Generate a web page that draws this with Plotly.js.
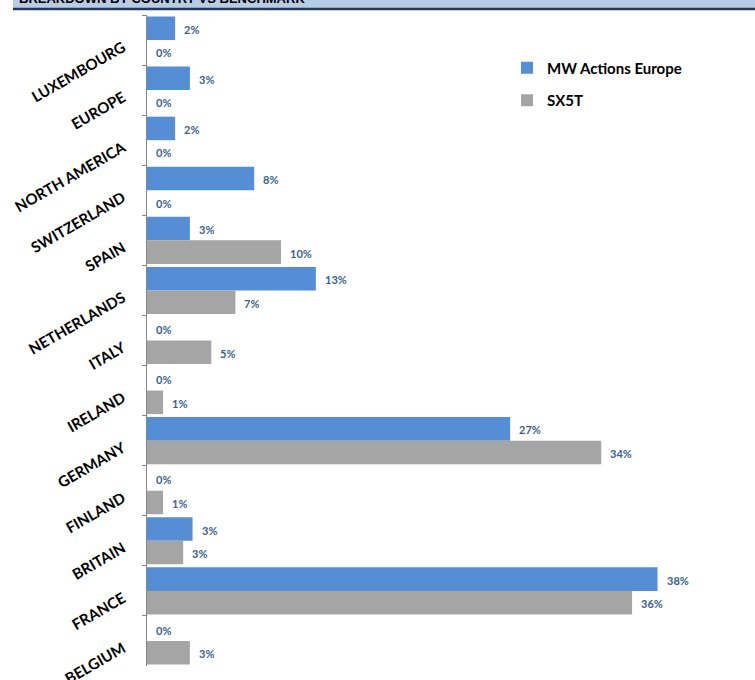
<!DOCTYPE html>
<html>
<head>
<meta charset="utf-8">
<script src="https://cdn.plot.ly/plotly-3.0.1.min.js"></script>
<style>html,body{margin:0;padding:0;background:#fff;}#chart{width:755px;height:680px;}</style>
</head>
<body>
<div id="chart"></div>
<script>
const categories = ["LUXEMBOURG","EUROPE","NORTH AMERICA","SWITZERLAND","SPAIN","NETHERLANDS","ITALY","IRELAND","GERMANY","FINLAND","BRITAIN","FRANCE","BELGIUM"];
const seriesNames = ["MW Actions Europe","SX5T"];
const fundValues = [2.1, 3.2, 2.1, 8.0, 3.2, 12.6, 0, 0, 27.1, 0, 3.4, 38.1, 0];
const benchValues = [0, 0, 0, 0, 10.0, 6.6, 4.8, 1.2, 33.9, 1.2, 2.7, 36.2, 3.2];
const titleText = "BREAKDOWN BY COUNTRY VS BENCHMARK";

const BLUE = "#558ED5", GREY = "#A5A5A5", LABEL = "#3A5F8F";
const fontFam = "Lato, 'Open Sans', sans-serif";

const traces = [
  {type:"bar", orientation:"h", name:seriesNames[0], y:categories, x:fundValues,
   marker:{color:BLUE}, legendgroup:"a", hoverinfo:"x+y"},
  {type:"bar", orientation:"h", name:seriesNames[1], y:categories, x:benchValues,
   marker:{color:GREY}, legendgroup:"b", hoverinfo:"x+y"}
];

const annotations = [];
[[fundValues, 10.8],[benchValues, -12.8]].forEach(([vals, ys]) => {
  vals.forEach((v, i) => {
    annotations.push({x:v, y:categories[i], xref:"x", yref:"y", text:Math.round(v)+"%",
      showarrow:false, xanchor:"left", yanchor:"middle", xshift:7, yshift:ys,
      font:{family:fontFam, size:11, color:LABEL, weight:"bold"}});
  });
});
annotations.push({x:0, y:1, xref:"paper", yref:"paper", xanchor:"left", yanchor:"bottom",
  xshift:-130, yshift:7, showarrow:false, text:titleText,
  font:{family:"'Liberation Sans', Arial, sans-serif", size:13, color:"#000", weight:"bold"}});

const layout = {
  width:755, height:680,
  margin:{l:147, r:5, t:14.5, b:14},
  paper_bgcolor:"#fff", plot_bgcolor:"#fff",
  barmode:"group", bargap:0.06, bargroupgap:0,
  xaxis:{range:[0,45], showgrid:false, zeroline:false, showline:false, showticklabels:false, ticks:""},
  yaxis:{type:"category", autorange:"reversed", showgrid:false, zeroline:false,
    showline:true, linecolor:"#868686", linewidth:1,
    ticks:"outside", ticklen:4, tickcolor:"#868686", tickson:"boundaries",
    ticklabelstandoff:20, ticklabelshift:-6,
    tickangle:-30, tickfont:{family:fontFam, size:15, color:"#000", weight:"bold"}},
  legend:{x:0.597, y:0.944, xanchor:"left", yanchor:"top", traceorder:"grouped", tracegroupgap:10,
    font:{family:fontFam, size:15, color:"#000", weight:"bold"}, bgcolor:"rgba(0,0,0,0)"},
  shapes:[
    {type:"rect", xref:"paper", yref:"paper", xsizemode:"pixel", ysizemode:"pixel", xanchor:0, yanchor:1,
     x0:-134, x1:620, y0:7, y1:20, fillcolor:"#B8CCE4", line:{width:0}, layer:"below"},
    {type:"line", xref:"paper", yref:"paper", xsizemode:"pixel", ysizemode:"pixel", xanchor:0, yanchor:1,
     x0:-134, x1:620, y0:6, y1:6, line:{color:"#1F3A5A", width:2.5}}
  ],
  annotations:annotations,
  showlegend:true
};

Plotly.newPlot("chart", traces, layout, {displayModeBar:false, staticPlot:true});
</script>
</body>
</html>
